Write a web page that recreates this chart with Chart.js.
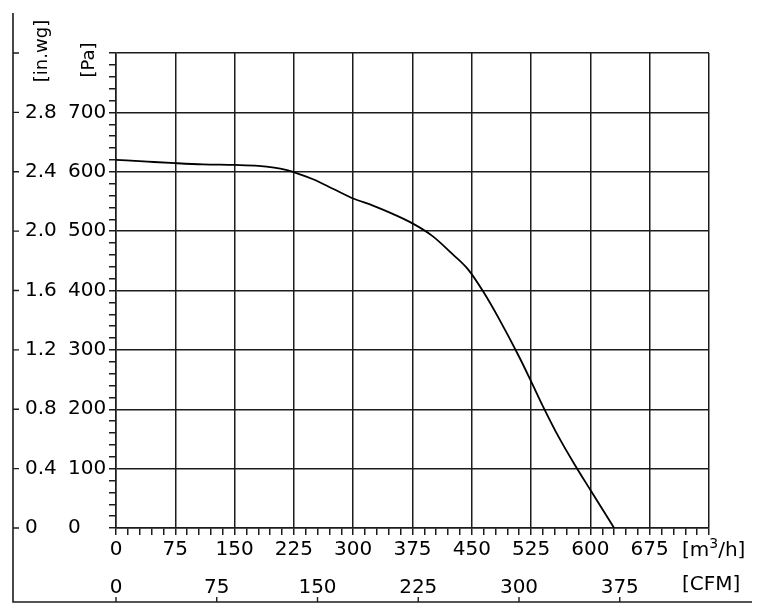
<!DOCTYPE html>
<html>
<head>
<meta charset="utf-8">
<script src="https://cdn.jsdelivr.net/npm/chart.js@4/dist/chart.umd.min.js"></script>
<style>
  html, body { margin: 0; padding: 0; background: #fff; }
  #wrap { width: 759px; height: 612px; }
</style>
</head>
<body>
<div id="wrap"><canvas id="c" width="759" height="612"></canvas></div>
<script>
// ---- data ----
const flowM3h    = [0, 40, 75, 110, 150, 180, 200, 215, 230, 250, 275, 300, 325, 350, 375, 400, 425, 445, 465, 485, 510, 525, 540, 560, 580, 600, 630];
const pressurePa = [620, 617, 614.5, 612.5, 611.5, 610, 607, 603, 597, 587, 571, 555, 543, 529, 513, 492, 462, 436, 397, 351, 288, 247, 205, 153, 107, 64, 0];

const flowTickLabels = ['0', '75', '150', '225', '300', '375', '450', '525', '600', '675'];
const paTickLabels   = ['0', '100', '200', '300', '400', '500', '600', '700'];
const inwgTickLabels = ['0', '0.4', '0.8', '1.2', '1.6', '2.0', '2.4', '2.8'];
const cfmTickValues  = [0, 75, 150, 225, 300, 375];
const cfmTickLabels  = ['0', '75', '150', '225', '300', '375'];

const FLOW_MAX = 750, PA_MAX = 800;
const M3H_PER_CFM = 1.699;

const INK = '#1c1c1c';
const FONT = 'DejaVu Sans';

Chart.defaults.font.family = FONT;
Chart.defaults.font.size = 20;
Chart.defaults.color = '#000';

const isMajorX = v => Math.abs(v % 75) < 1e-6;
const isMajorY = v => Math.abs(v % 100) < 1e-6;

const framePlugin = {
  id: 'frame',
  afterDraw(chart) {
    const ctx = chart.ctx;
    const y = chart.scales.y, x2 = chart.scales.x2;
    const left = 13, top = 13, bottom = x2.bottom, right = 752;
    ctx.save();
    ctx.strokeStyle = INK;
    ctx.lineWidth = 1.6;
    ctx.beginPath();
    ctx.moveTo(left, top); ctx.lineTo(left, bottom); ctx.lineTo(right, bottom);
    ctx.stroke();
    ctx.lineWidth = 1.4;
    ctx.beginPath();
    for (let v = 0; v <= PA_MAX; v += 100) {
      const py = y.getPixelForValue(v);
      ctx.moveTo(left, py); ctx.lineTo(left + 6, py);
    }
    cfmTickValues.forEach(v => {
      const px = x2.getPixelForValue(v);
      ctx.moveTo(px, bottom); ctx.lineTo(px, bottom - 5);
    });
    ctx.stroke();

    // unit labels
    ctx.fillStyle = '#000';
    ctx.textBaseline = 'middle';
    ctx.font = '18px ' + FONT;
    ctx.textAlign = 'center';
    ctx.save(); ctx.translate(42, 51); ctx.rotate(-Math.PI / 2); ctx.fillText('[in.wg]', 0, 0); ctx.restore();
    ctx.save(); ctx.translate(89, 60); ctx.rotate(-Math.PI / 2); ctx.fillText('[Pa]', 0, 0); ctx.restore();

    ctx.textAlign = 'left';
    ctx.font = '20px ' + FONT;
    const ux = 682, uy = 551;
    ctx.fillText('[m', ux, uy);
    let w = ctx.measureText('[m').width;
    ctx.font = '14px ' + FONT;
    ctx.fillText('3', ux + w, uy - 7);
    w += ctx.measureText('3').width;
    ctx.font = '20px ' + FONT;
    ctx.fillText('/h]', ux + w, uy);
    ctx.fillText('[CFM]', 682, 585);
    ctx.restore();
  }
};

new Chart(document.getElementById('c'), {
  type: 'scatter',
  data: {
    datasets: [{
      data: flowM3h.map((f, i) => ({ x: f, y: pressurePa[i] })),
      showLine: true,
      borderColor: '#000',
      borderWidth: 1.8,
      pointRadius: 0,
      cubicInterpolationMode: 'monotone',
      xAxisID: 'x',
      yAxisID: 'y'
    }]
  },
  options: {
    responsive: false,
    animation: false,
    devicePixelRatio: 1,
    layout: { padding: { left: 25, top: 53, right: 50, bottom: 10 } },
    plugins: { legend: { display: false }, tooltip: { enabled: false } },
    scales: {
      x: {
        type: 'linear', position: 'bottom', weight: 0,
        min: 0, max: FLOW_MAX,
        afterBuildTicks: s => { const t = []; for (let v = 0; v <= FLOW_MAX; v += 15) t.push({ value: v }); s.ticks = t; },
        afterFit: s => { s.height = 48; },
        ticks: {
          autoSkip: false, maxRotation: 0, minRotation: 0, padding: 3,
          callback: v => (isMajorX(v) && v / 75 < flowTickLabels.length) ? flowTickLabels[v / 75] : ''
        },
        grid: {
          color: c => isMajorX(c.tick.value) ? INK : 'rgba(0,0,0,0)',
          tickColor: INK, lineWidth: 1.5, tickLength: 7
        },
        border: { color: INK, width: 1.5 }
      },
      x2: {
        type: 'linear', position: 'bottom', weight: 1,
        min: 0, max: FLOW_MAX / M3H_PER_CFM,
        afterBuildTicks: s => { s.ticks = cfmTickValues.map(v => ({ value: v })); },
        afterFit: s => { s.height = 26; },
        ticks: {
          autoSkip: false, maxRotation: 0, minRotation: 0, padding: 0,
          callback: (v, i) => cfmTickLabels[i]
        },
        grid: { display: false, drawTicks: false },
        border: { display: false }
      },
      y: {
        type: 'linear', position: 'left', weight: 0,
        min: 0, max: PA_MAX,
        afterBuildTicks: s => { const t = []; for (let v = 0; v <= PA_MAX; v += 20) t.push({ value: v }); s.ticks = t; },
        afterFit: s => { s.width = 48; },
        ticks: {
          autoSkip: false, padding: 3, crossAlign: 'far',
          callback: v => (isMajorY(v) && v / 100 < paTickLabels.length) ? paTickLabels[v / 100] : ''
        },
        grid: {
          color: c => isMajorY(c.tick.value) ? INK : 'rgba(0,0,0,0)',
          tickColor: INK, lineWidth: 1.5, tickLength: 7
        },
        border: { color: INK, width: 1.5 }
      },
      y2: {
        type: 'linear', position: 'left', weight: 1,
        min: 0, max: PA_MAX,
        afterBuildTicks: s => { s.ticks = inwgTickLabels.map((l, i) => ({ value: i * 100 })); },
        afterFit: s => { s.width = 43; },
        ticks: {
          autoSkip: false, crossAlign: 'far',
          callback: (v, i) => inwgTickLabels[i]
        },
        grid: { display: false, drawTicks: false },
        border: { display: false }
      }
    }
  },
  plugins: [framePlugin]
});
</script>
</body>
</html>
